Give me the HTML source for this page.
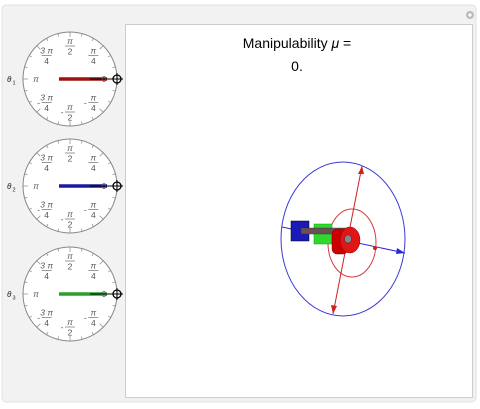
<!DOCTYPE html>
<html><head><meta charset="utf-8"><style>
html,body{margin:0;padding:0;background:#fff;}
body{width:480px;height:404px;overflow:hidden;font-family:"Liberation Sans",sans-serif;}
</style></head><body>
<svg width="480" height="404" viewBox="0 0 480 404" xmlns="http://www.w3.org/2000/svg">
<rect x="2" y="5" width="474" height="397" rx="4" fill="#f3f2f3" stroke="#e2e2e2"/>
<circle cx="470" cy="15" r="4" fill="#bbb"/>
<path d="M468 15h4M470 13v4" stroke="#fff" stroke-width="1.2"/>
<rect x="125.5" y="24.5" width="347" height="373" fill="#fff" stroke="#ccc"/>
<g id="dials"></g>
<text x="297" y="48" font-size="14" text-anchor="middle">Manipulability <tspan font-style="italic">μ</tspan> =</text>
<text id="muval" x="297" y="71" font-size="14" text-anchor="middle">0.</text>
<g id="robot">
<ellipse cx="343" cy="239" rx="62" ry="77" fill="none" stroke="#3a3ad8" stroke-width="1"/>
<ellipse cx="352" cy="243" rx="24" ry="34" fill="none" stroke="#d83a3a" stroke-width="1"/>
<line x1="362" y1="166" x2="333" y2="314" stroke="#d02020" stroke-width="1"/>
<path d="M362 166l-4 8h6z M333 314l-2-9 6 1z" fill="#d02020"/>
<line x1="282" y1="227" x2="405" y2="253" stroke="#2a2ad8" stroke-width="1"/>
<path d="M405 253l-8-5-1 6z" fill="#2a2ad8"/>
<circle cx="375" cy="248" r="2" fill="#d02020"/>
<rect x="291" y="221" width="18" height="20" fill="#1a1ab8" stroke="#000" stroke-width="0.5"/>
<rect x="314" y="224" width="18" height="20" fill="#2ed82e" stroke="#0a0" stroke-width="0.5"/>
<rect x="301" y="228" width="50" height="6" fill="#6a5050" stroke="#333" stroke-width="0.4"/>
<rect x="332" y="229" width="16" height="25" rx="5" fill="#c00" stroke="#800" stroke-width="0.5"/>
<ellipse cx="350" cy="240" rx="10" ry="13" fill="#e01515" stroke="#800" stroke-width="0.5"/>
<ellipse cx="348" cy="239" rx="3.5" ry="4" fill="#888" stroke="#333" stroke-width="0.5"/>
</g>
</svg>
<script>
const jointNames=["θ","θ","θ"];
const jointAngles=[0,0,0];
const jointColors=["#a01010","#1a1aa0","#2aa02a"];
const muValue=[0];
const centers=[79,186,294];
const NS="http://www.w3.org/2000/svg";
const g=document.getElementById('dials');
function mk(t,a,p){const e=document.createElementNS(NS,t);for(const k in a)e.setAttribute(k,a[k]);(p||g).appendChild(e);return e;}
const labels=[[45,"π|4"],[90,"π|2"],[135,"3 π|4"],[180,"π"],[-135,"-3 π|4"],[-90,"-π|2"],[-45,"-π|4"]];
const FS=8.5, COL='#555';
jointAngles.forEach((ang,i)=>{
  const cx=70,cy=centers[i],R=47;
  const dg=mk('g',{});
  
  
  mk('circle',{cx:cx,cy:cy,r:R,fill:'#fff',stroke:'#888','stroke-width':1},dg);
  for(let k=0;k<24;k++){const a=k*Math.PI/12;const l=k%3==0?5:3;
    mk('line',{x1:cx+R*Math.cos(a),y1:cy-R*Math.sin(a),x2:cx+(R-l)*Math.cos(a),y2:cy-(R-l)*Math.sin(a),stroke:'#888','stroke-width':0.7},dg);}
  labels.forEach(([d,s])=>{
    const a=d*Math.PI/180, r=d==180?34:33;const x=cx+r*Math.cos(a),y=cy-r*Math.sin(a);
    const neg=s[0]=='-';if(neg)s=s.slice(1);
    const t=s.split('|');
    if(t.length==1){mk('text',{x:x,y:y+3,'font-size':FS,'font-style':'italic','text-anchor':'middle',fill:COL},dg).textContent=t[0];}
    else{
      mk('text',{x:x,y:y-2,'font-size':FS,'font-style':'italic','text-anchor':'middle',fill:COL},dg).textContent=t[0];
      mk('line',{x1:x-5,y1:y,x2:x+5,y2:y,stroke:COL,'stroke-width':0.6},dg);
      mk('text',{x:x,y:y+8.5,'font-size':FS,'text-anchor':'middle',fill:COL},dg).textContent=t[1];
      if(neg)mk('text',{x:x-8,y:y+3,'font-size':FS,'text-anchor':'middle',fill:COL},dg).textContent='-';
    }
  });
  const a=ang*Math.PI/180;
  const ex=cx+R*Math.cos(a),ey=cy-R*Math.sin(a);
  const nd=mk('line',{x1:cx-11*Math.cos(a),y1:cy+11*Math.sin(a),x2:cx+(R-10)*Math.cos(a),y2:cy-(R-10)*Math.sin(a),stroke:jointColors[i],'stroke-width':3.5},dg);
  
  
  mk('line',{x1:cx+20*Math.cos(a),y1:cy-20*Math.sin(a),x2:ex,y2:ey,stroke:'#000','stroke-width':1},dg);
  mk('text',{x:cx+34,y:cy+3,'font-size':FS,'text-anchor':'middle',fill:COL},dg).textContent='0';
  mk('circle',{cx:ex,cy:ey,r:4,fill:'none',stroke:'#000','stroke-width':1.3},dg);
  mk('path',{d:`M${ex-6} ${ey}h12M${ex} ${ey-6}v12`,stroke:'#000','stroke-width':1},dg);
  const lb=mk('text',{x:7,y:cy+3,'font-size':8,'font-style':'italic',fill:'#222'},dg);
  
  
  lb.textContent=jointNames[i];
  mk('text',{x:12.5,y:cy+5.5,'font-size':5.5,fill:'#222'},dg).textContent=String(i+1);
});
document.getElementById('muval').textContent=muValue[0]===0?"0.":String(muValue[0]);
</script>
</body></html>
